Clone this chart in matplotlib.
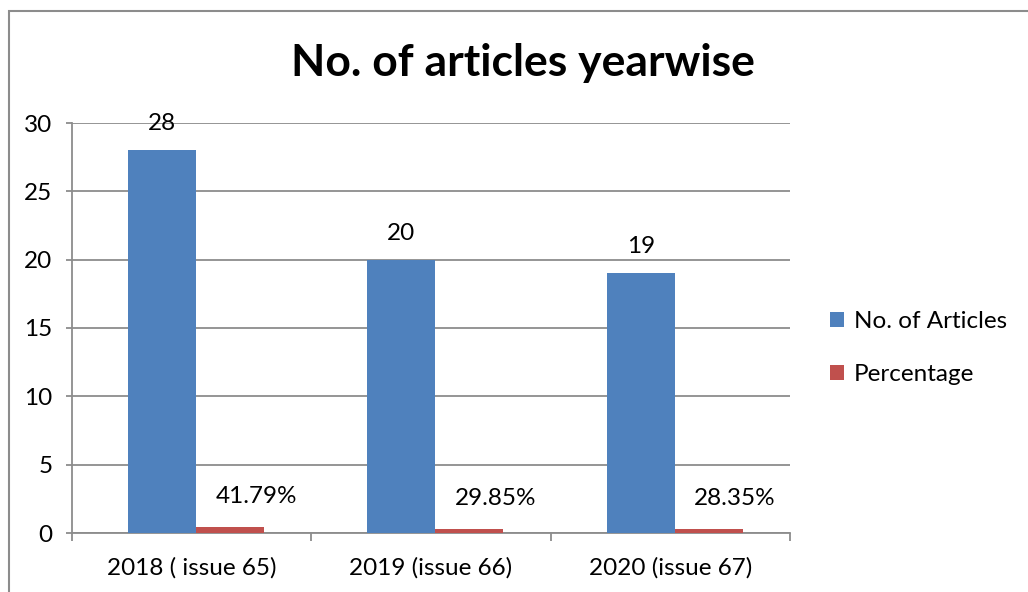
import matplotlib.pyplot as plt
import numpy as np
from matplotlib.patches import Rectangle

# Chart data
categories = ['2018 ( issue 65)', '2019 (issue 66)', '2020 (issue 67)']
articles = [28, 20, 19]
percentage = [0.4179, 0.2985, 0.2835]
pct_labels = ['41.79%', '29.85%', '28.35%']

BLUE = '#4f81bd'
RED = '#c0504d'
GRID = '#8c8c8c'
FS = 17.5

plt.rcParams['font.family'] = ['Lato', 'DejaVu Sans']

fig = plt.figure(figsize=(10.28, 5.92), dpi=100)
ax = fig.add_axes([72 / 1028, 1 - 533 / 592, (790 - 72) / 1028, (533 - 123) / 592])

# Outer chart border (cut off at right and bottom)
fig.patches.append(Rectangle((9 / 1028, -0.1), 1.2, 1 - 11 / 592 + 0.1,
                             transform=fig.transFigure, fill=False,
                             edgecolor=GRID, linewidth=1.5))

x = np.arange(len(categories))
w = 0.284
off = 0.018  # groups sit a touch right of the category centre
b1 = ax.bar(x - w / 2 + off, articles, w, color=BLUE, label='No. of Articles', zorder=3)
b2 = ax.bar(x + w / 2 + off, percentage, w, color=RED, label='Percentage', zorder=3)

for rect, v in zip(b1, articles):
    ax.annotate(str(v), (rect.get_x() + rect.get_width() / 2, rect.get_height()),
                xytext=(0, 19), textcoords='offset points',
                ha='center', va='center', fontsize=FS)
for rect, lab in zip(b2, pct_labels):
    ax.annotate(lab, (rect.get_x() + rect.get_width() / 2, rect.get_height()),
                xytext=(19, 22), textcoords='offset points',
                ha='center', va='center', fontsize=FS)

ax.set_xlim(-0.5, 2.5)
ax.set_ylim(0, 30)
ax.set_yticks(range(0, 31, 5))
ax.yaxis.grid(True, color=GRID, linewidth=1.3, zorder=0)
ax.set_axisbelow(True)

# x ticks at category boundaries, labels in the middle
ax.set_xticks([-0.5, 0.5, 1.5, 2.5])
ax.set_xticklabels([])
ax.set_xticks(x, minor=True)
ax.set_xticklabels(categories, minor=True, fontsize=FS)
ax.tick_params(axis='x', which='minor', length=0, pad=17)
ax.tick_params(axis='x', which='major', length=6, color=GRID, width=1.3)
ax.tick_params(axis='y', length=4, color=GRID, width=1.3, labelsize=FS, pad=10)

for side in ['top', 'right']:
    ax.spines[side].set_visible(False)
for side in ['left', 'bottom']:
    ax.spines[side].set_color(GRID)
    ax.spines[side].set_linewidth(1.3)

fig.text(523 / 1028, 1 - 63 / 592, 'No. of articles yearwise',
         ha='center', va='center', fontsize=32, fontweight='bold')

fig.legend(handles=[b1, b2], loc='center left',
           bbox_to_anchor=(808 / 1028, 1 - 348 / 592), frameon=False,
           fontsize=FS, handlelength=0.6, handleheight=0.6,
           handletextpad=0.4, labelspacing=1.3)

fig.savefig('out.png', dpi=100)
